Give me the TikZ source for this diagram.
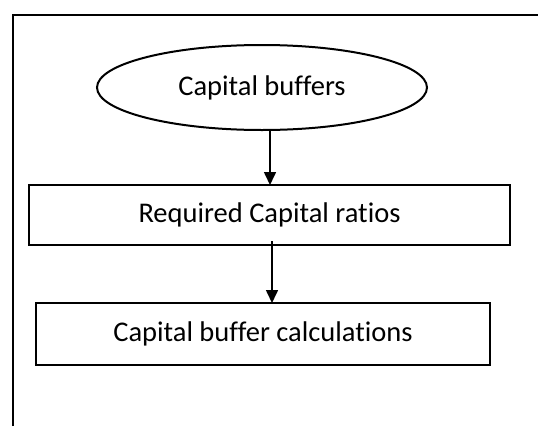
\documentclass[tikz,border=0pt]{standalone}
\usepackage{fontspec}
\setmainfont[Ligatures=CommonOff]{Carlito}
\usetikzlibrary{arrows.meta,shapes.geometric}
\begin{document}
\begin{tikzpicture}[x=1pt,y=-1pt,
  every node/.style={font=\fontsize{28.5}{34}\selectfont, text=black},
  flowbox/.style={draw=black, line width=2pt, inner sep=0pt},
  conn/.style={line width=1.6pt, -{Triangle[width=12pt,length=13pt]}}]
\useasboundingbox (0,0) rectangle (538,426);
\fill[white] (0,0) rectangle (538,426);
\draw[line width=2.6pt] (13,426) -- (13,15) -- (538,15);
\node[flowbox, ellipse, minimum width=330pt, minimum height=85pt] (cb) at (262,87.5) {Capital buffers};
\node[flowbox, rectangle, minimum width=481pt, minimum height=60pt] (rcr) at (269.5,215) {Required Capital ratios};
\node[flowbox, rectangle, minimum width=454pt, minimum height=62pt] (cbc) at (263,334) {Capital buffer calculations};
\draw[conn] (cb.south -| 270,0) -- (270,185) coordinate (a1);
\draw[conn] ([yshift=5pt]rcr.south -| 272,0) -- (272,303) coordinate (a2);
\end{tikzpicture}
\end{document}
